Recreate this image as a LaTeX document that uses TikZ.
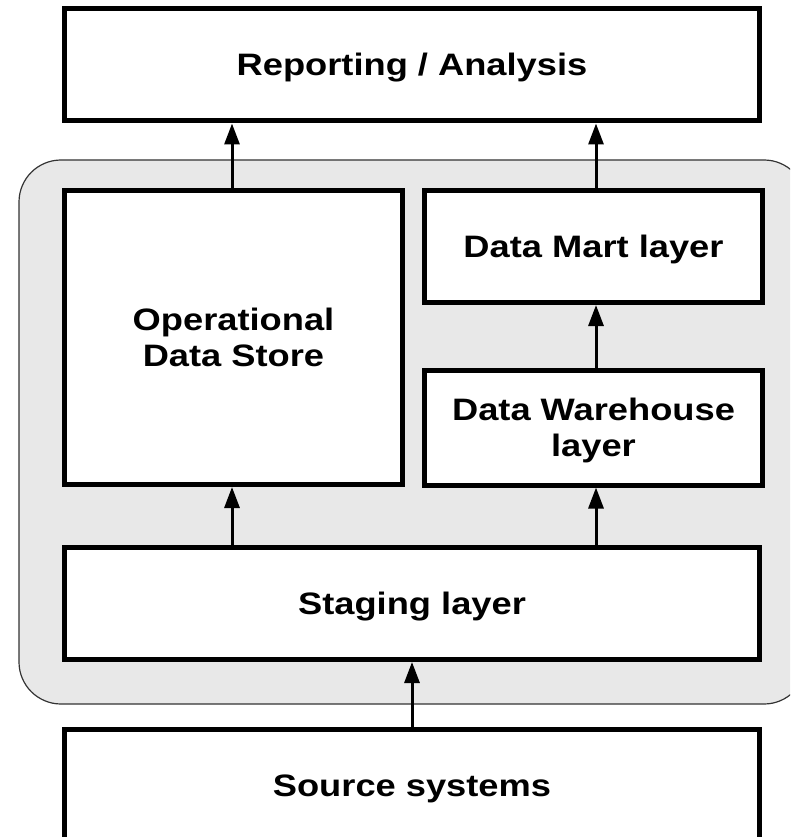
\documentclass[tikz,border=0pt]{standalone}
\usepackage{graphicx}
\usepackage{fontspec}
\setmainfont{Liberation Sans}
\usetikzlibrary{arrows.meta}
\definecolor{panelgray}{HTML}{E8E8E8}
\newcommand\lblone[1]{\scalebox{1.17}[1]{#1}}
\newcommand\lbltwo[2]{\scalebox{1.17}[1]{\vbox{\baselineskip=36pt\halign{\hfil##\hfil\cr #1\cr #2\cr}}}}
\begin{document}
\begin{tikzpicture}[x=1pt,y=-1pt,
  box/.style={draw=black,line width=5pt,fill=white,inner sep=0pt,font=\bfseries\fontsize{31}{36}\selectfont,text depth=0pt,text height=22pt},
  boxtwo/.style={box,text height=58pt},
  conn/.style={line width=3pt,-{Triangle[length=21pt,width=15pt]}}]
\useasboundingbox (0,0) rectangle (790,837);
\clip (0,0) rectangle (790,837);
\draw[fill=panelgray,draw=black!80,line width=1.2pt,rounded corners=42pt] (19,160) rectangle (806,704);
\node[box,minimum width=695pt,minimum height=112pt] (rep) at (412,65) {\lblone{Reporting / Analysis}};
\node[boxtwo,minimum width=338pt,minimum height=294pt] (ods) at (233.5,337.5) {\lbltwo{Operational}{Data Store}};
\node[box,minimum width=338pt,minimum height=112pt] (dm) at (593.5,246.5) {\lblone{Data Mart layer}};
\node[boxtwo,minimum width=338pt,minimum height=115pt] (dw) at (593.5,427.5) {\lbltwo{Data Warehouse}{layer}};
\node[box,minimum width=695pt,minimum height=112pt] (stg) at (412,603.5) {\lblone{Staging layer}};
\node[box,minimum width=695pt,minimum height=112pt] (src) at (412,785) {\lblone{Source systems}};
\draw[conn] (ods.north -| 232,0) -- (rep.south -| 232,0);
\draw[conn] (dm.north -| 596,0) -- (rep.south -| 596,0);
\draw[conn] (dw.north -| 596,0) -- (dm.south -| 596,0);
\draw[conn] (stg.north -| 232,0) -- (ods.south -| 232,0);
\draw[conn] (stg.north -| 596,0) -- (dw.south -| 596,0);
\draw[conn] (src.north) -- (stg.south);
\end{tikzpicture}
\end{document}
